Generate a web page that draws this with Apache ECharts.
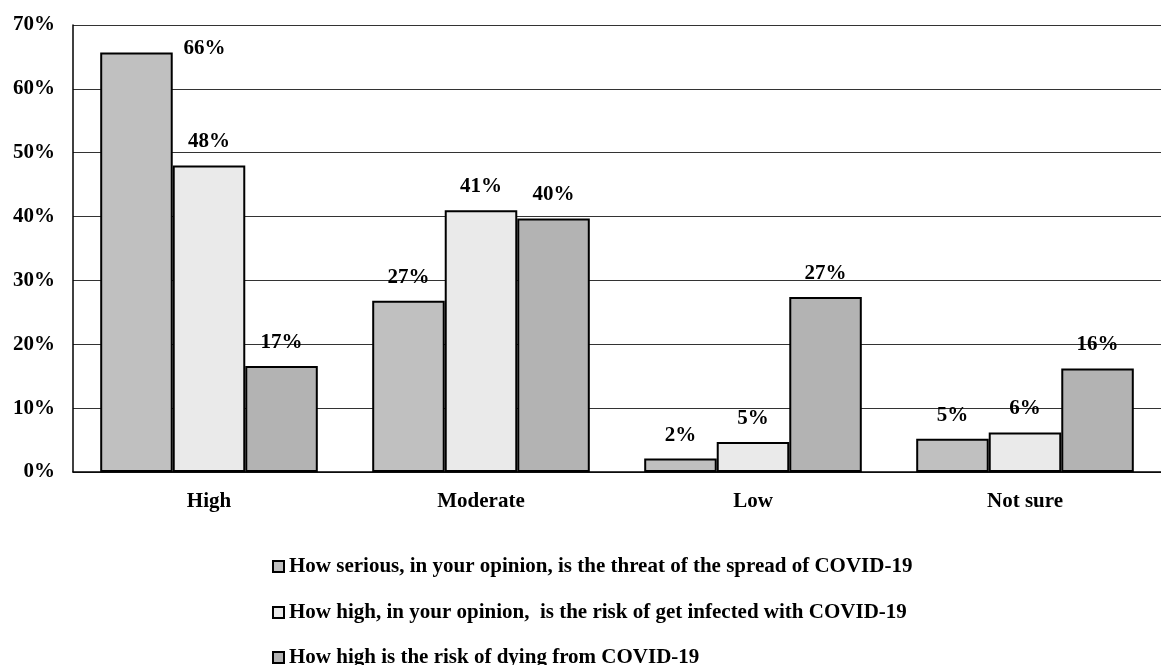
<!DOCTYPE html>
<html>
<head>
<meta charset="utf-8">
<script src="https://cdn.jsdelivr.net/npm/echarts@6/dist/echarts.min.js"></script>
<style>html,body{margin:0;padding:0;background:#fff;}#c{width:1161px;height:665px;}</style>
</head>
<body>
<div id="c"></div>
<script>
const categories = ['High', 'Moderate', 'Low', 'Not sure'];
const seriesNames = [
  'How serious, in your opinion, is the threat of the spread of COVID-19',
  'How high, in your opinion,  is the risk of get infected with COVID-19',
  'How high is the risk of dying from COVID-19'
];
const threatSpread = [65.7, 26.8, 2.1, 5.2];
const riskInfected = [48.0, 41.0, 4.7, 6.2];
const riskDying = [16.6, 39.7, 27.4, 16.2];
const yTicks = [0, 10, 20, 30, 40, 50, 60, 70];

const FONT = '"Liberation Serif", "Times New Roman", serif';
const colors = ['#c0c0c0', '#eaeaea', '#b3b3b3'];
const allValues = [threatSpread, riskInfected, riskDying];

const series = allValues.map((vals, si) => ({
  name: seriesNames[si],
  type: 'bar',
  barGap: '0%',
  barCategoryGap: '20%',
  itemStyle: { color: colors[si], borderColor: '#000', borderWidth: 2 },
  label: {
    show: true,
    position: 'top',
    distance: 13,
    fontFamily: FONT,
    fontWeight: 'bold',
    fontSize: 21,
    color: '#000',
    formatter: p => Math.round(p.value) + '%'
  },
  data: vals.map((v, i) => (si === 0 && i === 0)
    ? { value: v, label: { offset: [68, 20] } }
    : v)
}));

const legendTops = [556, 602, 647];
const legends = seriesNames.map((n, i) => ({
  orient: 'vertical',
  left: 272,
  top: legendTops[i],
  padding: 0,
  itemWidth: 11,
  itemHeight: 11,
  itemGap: 0,
  icon: 'rect',
  textStyle: { fontFamily: FONT, fontWeight: 'bold', fontSize: 21, color: '#000' },
  data: [n]
}));

const chart = echarts.init(document.getElementById('c'), null, { renderer: 'canvas' });
chart.setOption({
  animation: false,
  backgroundColor: '#fff',
  grid: { left: 73, top: 25, width: 1100, height: 447, containLabel: false },
  legend: legends,
  xAxis: {
    type: 'category',
    data: categories,
    axisLine: { lineStyle: { color: '#000', width: 1.5 } },
    axisTick: { show: false },
    axisLabel: { fontFamily: FONT, fontWeight: 'bold', fontSize: 21, color: '#000', margin: 19 }
  },
  yAxis: {
    type: 'value',
    min: yTicks[0],
    max: yTicks[yTicks.length - 1],
    interval: 10,
    axisLine: { show: true, lineStyle: { color: '#000', width: 1.5 } },
    axisTick: { show: false },
    splitLine: { lineStyle: { color: '#333', width: 1 } },
    axisLabel: { fontFamily: FONT, fontWeight: 'bold', fontSize: 21, color: '#000', margin: 18, formatter: '{value}%' }
  },
  series: series
});
</script>
</body>
</html>
